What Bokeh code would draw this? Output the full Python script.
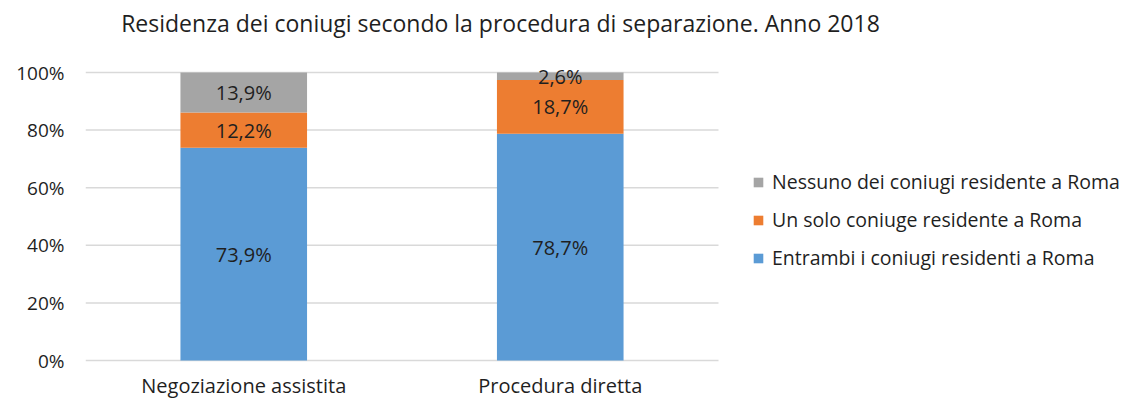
from bokeh.plotting import figure
from bokeh.models import (Legend, LegendItem, NumeralTickFormatter, FixedTicker,
                          ColumnDataSource, Range1d, Label)
from bokeh.core.properties import value
from bokeh.embed import file_html
from bokeh.resources import INLINE

title = "Residenza dei coniugi secondo la procedura di separazione. Anno 2018"
categories = ["Negoziazione assistita", "Procedura diretta"]
series = ["Entrambi i coniugi residenti a Roma",
          "Un solo coniuge residente a Roma",
          "Nessuno dei coniugi residente a Roma"]
entrambi = [73.9, 78.7]
un_solo = [12.2, 18.7]
nessuno = [13.9, 2.6]
colors = ["#5B9BD5", "#ED7D31", "#A5A5A5"]
yticks = [0, 20, 40, 60, 80, 100]

FONT = "Open Sans"
TXT = "#1f1f1f"

W, H = 1122, 398
LEFT = 85           # plot-area left edge (px)
CAT_W = 316.5       # px per category slot
UNIT_Y = 288        # px for 100%
TOP = 72            # px from top to the 100% line

n = len(categories)
xpos = [i + 0.5 for i in range(n)]   # category slot centres

keys = ["e", "u", "n"]
src = ColumnDataSource({"x": xpos,
                        "e": [v / 100 for v in entrambi],
                        "u": [v / 100 for v in un_solo],
                        "n": [v / 100 for v in nessuno]})

p = figure(x_range=Range1d(0, (W - LEFT) / CAT_W),
           y_range=Range1d(-(H - TOP - UNIT_Y) / UNIT_Y, 1 + TOP / UNIT_Y),
           width=W, height=H, output_backend="svg", toolbar_location=None,
           min_border_left=LEFT, min_border_right=0, min_border_top=0,
           min_border_bottom=0)

# horizontal gridlines across the category slots only
ticks = [t / 100 for t in yticks]
p.segment(x0=[0] * len(ticks), x1=[n] * len(ticks), y0=ticks, y1=ticks,
          line_color="#D9D9D9", line_width=1.5)

rs = p.vbar_stack(keys, x="x", width=0.4, color=colors, source=src, line_width=0)

# segment labels
lab_x, lab_y, lab_t = [], [], []
for i in range(n):
    base = 0.0
    for vals in (entrambi, un_solo, nessuno):
        v = vals[i] / 100
        lab_x.append(xpos[i])
        lab_y.append(base + v / 2)
        lab_t.append(f"{vals[i]:.1f}%".replace(".", ","))
        base += v
p.text(x=lab_x, y=lab_y, text=lab_t, text_align="center", text_baseline="middle",
       text_font=value(FONT), text_font_size="20px", text_color=TXT)

# category labels below the 0 line
p.text(x=xpos, y=[-25 / UNIT_Y] * n, text=categories,
       text_align="center", text_baseline="middle",
       text_font=value(FONT), text_font_size="20px", text_color=TXT)

# title
p.add_layout(Label(x=(500 - LEFT) / CAT_W, y=1 + 50 / UNIT_Y, text=title,
                   text_align="center", text_baseline="middle",
                   text_font=FONT, text_font_size="23px", text_color=TXT))

p.xaxis.visible = False
p.xgrid.visible = False
p.ygrid.visible = False
yax = p.yaxis[0]
yax.ticker = FixedTicker(ticks=ticks)
yax.formatter = NumeralTickFormatter(format="0%")
yax.axis_line_color = None
yax.major_tick_line_color = None
yax.minor_tick_line_color = None
yax.major_label_text_font = FONT
yax.major_label_text_font_size = "19px"
yax.major_label_text_color = TXT
yax.major_label_standoff = 15
p.outline_line_color = None

items = [LegendItem(label=series[2], renderers=[rs[2]]),
         LegendItem(label=series[1], renderers=[rs[1]]),
         LegendItem(label=series[0], renderers=[rs[0]])]
legend = Legend(items=items, location=(752 - LEFT, 127), orientation="vertical",
                label_text_font=FONT, label_text_font_size="19.5px",
                label_text_color=TXT, glyph_width=12, glyph_height=12,
                spacing=11, border_line_color=None, background_fill_alpha=0,
                label_standoff=8, padding=0, margin=0)
p.add_layout(legend, "center")

open("out.html", "w").write(file_html(p, INLINE))
